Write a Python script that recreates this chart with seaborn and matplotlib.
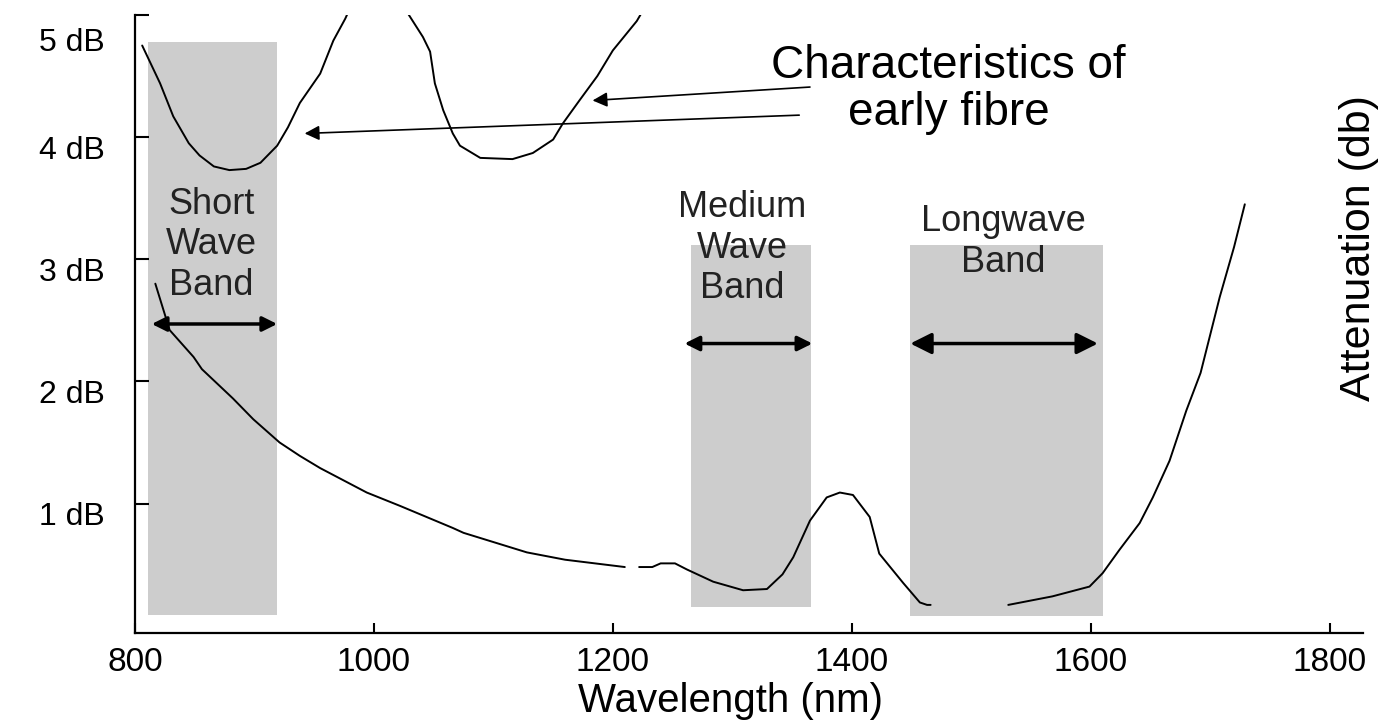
import seaborn as sns
import matplotlib.pyplot as plt
import matplotlib.transforms as mtransforms
import pandas as pd

# modern fibre attenuation, three traced pieces (gaps in the original scan)
modern_seg = [0] * 16 + [1] * 20 + [2] * 13
modern_wl = [817, 829, 849, 856, 882, 899, 921, 938, 955, 994, 1022, 1066, 1075, 1128, 1160, 1210,
             1222, 1233, 1240, 1252, 1262, 1284, 1309, 1329, 1342, 1351, 1365, 1379, 1390, 1401, 1415, 1423, 1443, 1457, 1463, 1466,
             1531, 1568, 1599, 1610, 1624, 1641, 1652, 1666, 1680, 1692, 1708, 1720, 1729]
modern_db = [2.80, 2.42, 2.20, 2.10, 1.86, 1.69, 1.50, 1.39, 1.29, 1.09, 0.98, 0.80, 0.76, 0.60, 0.54, 0.48,
             0.48, 0.48, 0.51, 0.51, 0.46, 0.36, 0.29, 0.30, 0.42, 0.56, 0.86, 1.05, 1.09, 1.07, 0.89, 0.59, 0.35, 0.19, 0.17, 0.17,
             0.17, 0.24, 0.32, 0.43, 0.62, 0.84, 1.05, 1.35, 1.76, 2.07, 2.69, 3.10, 3.45]

# early fibre, two visible dips
early_seg = [0] * 16 + [1] * 17
early_wl = [806, 821, 832, 845, 854, 866, 879, 893, 905, 919, 928, 938, 955, 966, 976, 982,
            1026, 1041, 1047, 1051, 1058, 1066, 1072, 1089, 1116, 1133, 1150, 1158, 1172, 1187, 1200, 1220, 1226]
early_db = [4.75, 4.44, 4.17, 3.95, 3.85, 3.76, 3.73, 3.74, 3.79, 3.93, 4.08, 4.28, 4.52, 4.79, 4.97, 5.10,
            5.05, 4.82, 4.70, 4.44, 4.22, 4.03, 3.93, 3.83, 3.82, 3.87, 3.98, 4.11, 4.30, 4.50, 4.71, 4.95, 5.05]

band_labels = ["Short\nWave\nBand", "Medium\nWave\nBand", "Longwave\nBand"]
band_start = [811, 1265, 1449]
band_end = [919, 1366, 1610]
band_bottom = [0.09, 0.15, 0.08]
band_top = [4.78, 3.12, 3.12]

y_ticks = [1, 2, 3, 4, 5]
y_tick_labels = ["1 dB", "2 dB", "3 dB", "4 dB", "5 dB"]
x_ticks = [800, 1000, 1200, 1400, 1600, 1800]

modern = pd.DataFrame({"wl": modern_wl, "db": modern_db, "seg": modern_seg})
early = pd.DataFrame({"wl": early_wl, "db": early_db, "seg": early_seg})

sns.set_style("ticks")
plt.rcParams["font.family"] = ["Liberation Sans", "DejaVu Sans"]
plt.rcParams.update({"text.color": "black", "axes.labelcolor": "black",
                     "xtick.color": "black", "ytick.color": "black",
                     "axes.edgecolor": "black"})

fig = plt.figure(figsize=(13.82, 7.24), dpi=100)
ax = fig.add_axes([0.0977, 0.1257, 0.8886, 0.8536])

# grey bands
for x0, x1, b, t in zip(band_start, band_end, band_bottom, band_top):
    ax.fill_between([x0, x1], b, t, color="#cdcdcd", lw=0, zorder=0)

sns.lineplot(data=modern, x="wl", y="db", units="seg", estimator=None,
             color="black", lw=1.4, ax=ax, zorder=3)
sns.lineplot(data=early, x="wl", y="db", units="seg", estimator=None,
             color="black", lw=1.4, ax=ax, zorder=3)

# band text
label_pos = [(864, 3.12), (1308, 3.09), (1527, 3.14)]
for txt, (lx, ly) in zip(band_labels, label_pos):
    ax.text(lx, ly, txt, ha="center", va="center", fontsize=26,
            linespacing=1.2, color="#222222", zorder=4)

# double-headed band arrows
for (x0, x1, y, ms) in [(814, 919, 2.47, 22), (1260, 1367, 2.31, 22), (1449, 1606, 2.31, 32)]:
    ax.annotate("", xy=(x1, y), xytext=(x0, y),
                arrowprops=dict(arrowstyle="<|-|>", color="black", lw=2.5,
                                mutation_scale=ms, shrinkA=0, shrinkB=0), zorder=5)

# early fibre callout
ax.text(1481, 4.39, "Characteristics of\nearly fibre", ha="center", va="center",
        fontsize=33, linespacing=1.1)
ax.annotate("", xy=(1183, 4.30), xytext=(1365, 4.41),
            arrowprops=dict(arrowstyle="-|>", color="black", lw=1.2,
                            mutation_scale=22, shrinkA=0, shrinkB=0))
ax.annotate("", xy=(942, 4.03), xytext=(1356, 4.18),
            arrowprops=dict(arrowstyle="-|>", color="black", lw=1.2,
                            mutation_scale=22, shrinkA=0, shrinkB=0))

ax.set_xlim(800, 1828)
ax.set_ylim(-0.06, 5.0)
ax.set_xticks(x_ticks)
ax.set_yticks(y_ticks)
ax.set_yticklabels(y_tick_labels)
ax.tick_params(axis="y", direction="in", length=10, width=1.5, labelsize=23, pad=22)
ax.tick_params(axis="x", direction="in", length=7, width=1.5, labelsize=24, pad=10)
offset = mtransforms.ScaledTranslation(0, -0.1, fig.dpi_scale_trans)
top_offset = mtransforms.ScaledTranslation(0, -0.25, fig.dpi_scale_trans)
ylabs = ax.get_yticklabels()
for lab in ylabs[:-1]:
    lab.set_transform(lab.get_transform() + offset)
ylabs[-1].set_transform(ylabs[-1].get_transform() + top_offset)

for side in ["top", "right"]:
    ax.spines[side].set_visible(False)
for side in ["left", "bottom"]:
    ax.spines[side].set_linewidth(1.6)

ax.set_xlabel("Wavelength (nm)", fontsize=29)
ax.xaxis.set_label_coords(0.485, -0.079)
ax.set_ylabel("Attenuation (db)", fontsize=31)
ax.yaxis.set_label_coords(1.013, 0.623)

plt.savefig("out.png", dpi=100)
